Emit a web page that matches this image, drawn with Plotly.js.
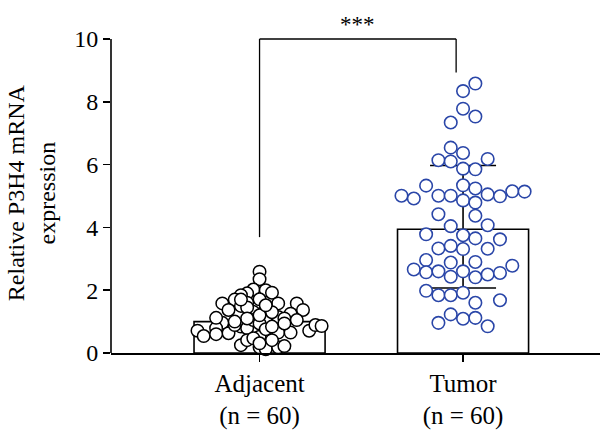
<!DOCTYPE html>
<html>
<head>
<meta charset="utf-8">
<script src="https://cdn.plot.ly/plotly-3.0.1.min.js"></script>
<style>html,body{margin:0;padding:0;background:#fff;}#chart{width:600px;height:432px;}</style>
</head>
<body>
<div id="chart"></div>
<script>
// ---- data ----
const categories = ['Adjacent', 'Tumor'];
const groupN = [60, 60];
const barMeans = [1.00, 3.94];
const sdPlus = [0, 2.03];
const sdMinus = [0, 1.87];

const adjValues = [2.59, 2.35, 2.02, 2.00, 1.90, 1.92, 1.84, 1.71, 1.70, 1.50,
                   1.58, 1.60, 1.42, 1.58, 1.58, 1.37, 1.37, 1.25, 1.31, 1.00,
                   1.15, 1.10, 1.05, 0.96, 0.79, 0.71, 0.54, 0.63, 0.84, 0.79,
                   0.52, 0.65, 0.65, 0.71, 0.89, 0.86, 0.25, 0.41, 0.18, 0.12,
                   0.18, 1.45, 1.05, 0.94, 1.10, 0.89, 0.47, 0.41, 0.94, 1.30,
                   0.31, 0.22, 1.12, 0.76, 1.20, 0.84, 1.52, 1.00, 0.60, 1.70];
const adjCols = [0, 0, -1, 1, -2, 2, -3, 0, -4, -3,
                 -6, -2, 1, 3, 6, 7, -5, 5, -1, 1,
                 3, 4, 6, -6, -7, -10, -9, -5, -3, -2,
                 0, 3, 5, 8, 9, 10, -3, -2, 0, 1,
                 3, -2, -1, 0, -2, -4, -1, 2, 4, 2,
                 0, 4, -7, 1, 0, 2, 1, -4, -7, -3];

const tumValues = [8.58, 8.34, 7.78, 7.53, 7.34, 6.54, 6.37, 6.14, 6.10, 6.18,
                   5.87, 5.85, 5.33, 5.34, 5.24, 5.01, 4.92, 5.01, 5.01, 4.86,
                   4.79, 5.05, 4.99, 5.15, 5.14, 4.42, 4.37, 4.04, 4.07, 3.78,
                   3.75, 3.65, 3.62, 3.33, 3.41, 3.31, 3.32, 2.96, 2.88, 2.90,
                   2.66, 2.57, 2.60, 2.43, 2.60, 2.41, 2.50, 2.55, 2.78, 1.98,
                   1.84, 1.84, 1.92, 1.60, 1.68, 1.23, 0.96, 1.09, 1.12, 0.85];
const tumCols = [1, 0, 0, 1, -1, -1, 0, -2, -1, 2,
                 0, 1, -3, 0, 1, -5, -4, -2, -1, 0,
                 1, 2, 3, 4, 5, -2, 1, -1, 2, -3,
                 0, 1, 3, -2, -1, 0, 2, -3, -1, 1,
                 -4, -3, -2, -1, 0, 1, 2, 3, 4, -3,
                 -2, -1, 0, 1, 3, -1, -2, 0, 1, 2];

const yTicks = [0, 2, 4, 6, 8, 10];
const sigLabel = '***';
const sigTop = 10;
const sigLeftBottom = 3.69;
const sigRightBottom = 8.93;

// ---- drawing ----
const FONT = 'Liberation Serif, Times New Roman, serif';
const adjStep = 0.0305, tumStep = 0.0605;
const sigRightX = 0.966;
const tickText = categories.map((c, i) => c + '<br>(n = ' + groupN[i] + ')');

const traces = [
  {type: 'bar', x: [0], y: [barMeans[0]], width: 0.644,
   marker: {color: '#ffffff', line: {color: '#000', width: 1.6}}, hoverinfo: 'skip'},
  {type: 'bar', x: [1], y: [barMeans[1]], width: 0.644,
   marker: {color: '#ffffff', line: {color: '#000', width: 1.6}},
   error_y: {type: 'data', symmetric: false, array: [sdPlus[1]], arrayminus: [sdMinus[1]],
             color: '#000', thickness: 1.6, width: 33}, hoverinfo: 'skip'},
  {type: 'scatter', mode: 'markers', x: adjCols.map(c => 0 + c * adjStep), y: adjValues,
   cliponaxis: false,
   marker: {size: 12.5, color: '#ffffff', line: {color: '#000', width: 1.5}}},
  {type: 'scatter', mode: 'markers', x: tumCols.map(c => 1 + c * tumStep), y: tumValues,
   cliponaxis: false,
   marker: {size: 12.5, color: '#ffffff', line: {color: '#2a46a8', width: 1.6}}}
];

const layout = {
  width: 600, height: 432,
  margin: {l: 111, r: 0, t: 16.5, b: 79, pad: 0},
  paper_bgcolor: '#fff', plot_bgcolor: '#fff',
  showlegend: false, barmode: 'overlay',
  font: {family: FONT, color: '#000', size: 24},
  xaxis: {range: [-0.73, 1.673], tickvals: [0, 1], ticktext: tickText,
          ticks: 'outside', ticklen: 7, tickwidth: 1.6, tickcolor: '#000',
          showline: true, linewidth: 1.6, linecolor: '#000',
          showgrid: false, zeroline: false,
          tickfont: {family: FONT, size: 25, color: '#000'}},
  yaxis: {range: [0, 10.7], tickvals: yTicks, ticktext: yTicks.map(String),
          ticks: 'outside', ticklen: 7, tickwidth: 1.6, tickcolor: '#000',
          showline: false, showgrid: false, zeroline: false,
          tickfont: {family: FONT, size: 24, color: '#000'}},
  shapes: [
    {type: 'line', xref: 'paper', yref: 'y', x0: 0, x1: 0, y0: 0, y1: yTicks[yTicks.length - 1],
     line: {color: '#000', width: 1.6}},
    {type: 'line', xref: 'x', yref: 'y', x0: 0, x1: 0, y0: sigLeftBottom, y1: sigTop,
     line: {color: '#000', width: 1.3}},
    {type: 'line', xref: 'x', yref: 'y', x0: 0, x1: sigRightX, y0: sigTop, y1: sigTop,
     line: {color: '#000', width: 1.3}},
    {type: 'line', xref: 'x', yref: 'y', x0: sigRightX, x1: sigRightX, y0: sigRightBottom, y1: sigTop,
     line: {color: '#000', width: 1.3}}
  ],
  annotations: [
    {xref: 'x', yref: 'y', x: sigRightX / 2, y: sigTop, yanchor: 'bottom', xanchor: 'center',
     text: sigLabel, showarrow: false, font: {family: FONT, size: 23, color: '#000'}},
    {xref: 'paper', yref: 'y', x: (31 - 111) / 489, y: 5.09, xanchor: 'center', yanchor: 'middle',
     textangle: -90, text: 'Relative P3H4 mRNA<br>expression', showarrow: false,
     font: {family: FONT, size: 24, color: '#000'}}
  ]
};

Plotly.newPlot('chart', traces, layout, {displayModeBar: false, staticPlot: true});
</script>
</body>
</html>
